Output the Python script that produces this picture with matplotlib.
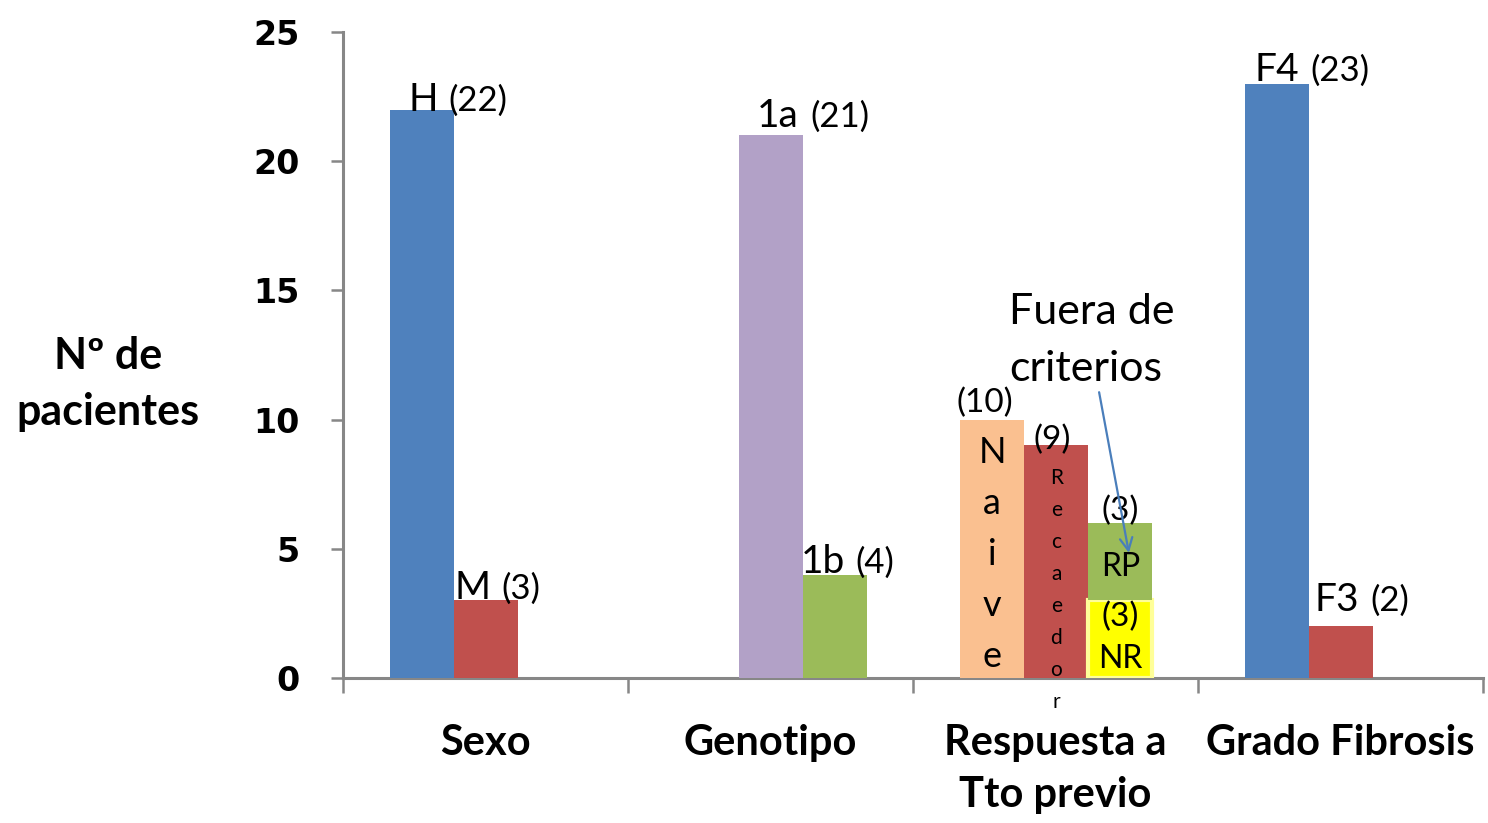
import matplotlib
matplotlib.use("Agg")
import matplotlib.pyplot as plt
from matplotlib.offsetbox import TextArea, HPacker, AnnotationBbox

FONT = "Lato"
plt.rcParams["font.family"] = [FONT, "DejaVu Sans"]

# ---- data -------------------------------------------------------------
categories = ["Sexo", "Genotipo", "Respuesta a\nTto previo", "Grado Fibrosis"]

sexo_labels = ["H", "M"]
sexo_values = [22, 3]

genotipo_labels = ["1a", "1b"]
genotipo_values = [21, 4]

respuesta_labels = ["Naive", "Recaedor", "NR", "RP"]
respuesta_values = [10, 9, 3, 3]

fibrosis_labels = ["F4", "F3"]
fibrosis_values = [23, 2]

y_ticks = [0, 5, 10, 15, 20, 25]

# ---- styling ----------------------------------------------------------
BLUE = "#4F81BD"
RED = "#C0504D"
PURPLE = "#B2A1C7"
GREEN = "#9BBB59"
ORANGE = "#FAC090"
YELLOW = "#FFFF00"
AXIS_GREY = "#878787"
ARROW_BLUE = "#4A7EBB"

SLOT_START = [0.165, 0.39, 0.615]   # left edge of each bar slot inside a group
WIDTH = 0.225

fig = plt.figure(figsize=(14.88, 8.23), dpi=100)
ax = fig.add_axes([343 / 1488, 1 - 678 / 823, 1140 / 1488, 646 / 823])
ax.set_xlim(0, 4)
ax.set_ylim(0, 25)

for side in ("top", "right"):
    ax.spines[side].set_visible(False)
for side in ("left", "bottom"):
    ax.spines[side].set_color(AXIS_GREY)
    ax.spines[side].set_linewidth(2.2)
    ax.spines[side].set_zorder(0.5)

ax.set_yticks(y_ticks)
ax.set_yticklabels([str(v) for v in y_ticks], family="DejaVu Sans",
                   fontweight="bold", fontsize=24)
ax.tick_params(axis="y", direction="out", length=9, width=1.8,
               color=AXIS_GREY, pad=22)

ax.set_xticks(range(len(categories) + 1))
ax.set_xticklabels([])
ax.tick_params(axis="x", which="major", direction="out", length=11,
               width=1.8, color=AXIS_GREY)
ax.set_xticks([i + 0.5 for i in range(len(categories))], minor=True)
ax.set_xticklabels(categories, minor=True, fontsize=30, fontweight="bold",
                   linespacing=1.45)
ax.tick_params(axis="x", which="minor", length=0, pad=33)


def pair_label(big, small, x, y, dx, dy):
    """Large category letter followed by a smaller count, sitting on a bar."""
    a = TextArea(big, textprops=dict(size=28, family=FONT, color="black"))
    b = TextArea(small, textprops=dict(size=25, family=FONT, color="black"))
    pack = HPacker(children=[a, b], align="baseline", pad=0, sep=8)
    ab = AnnotationBbox(pack, (x, y), xybox=(dx, dy), xycoords="data",
                        boxcoords="offset points", box_alignment=(0, 0),
                        frameon=False, pad=0, annotation_clip=False)
    ax.add_artist(ab)


def bar(group, slot, value, color, bottom=0, **kw):
    left = group + SLOT_START[slot]
    ax.bar(left, value, width=WIDTH, bottom=bottom, align="edge",
           color=color, zorder=2, **kw)
    return left


# Sexo
x = bar(0, 0, sexo_values[0], BLUE)
pair_label(sexo_labels[0], f"({sexo_values[0]})", x, sexo_values[0], 13, -6)
x = bar(0, 1, sexo_values[1], RED)
pair_label(sexo_labels[1], f"({sexo_values[1]})", x, sexo_values[1], 0, -4)

# Genotipo
x = bar(1, 1, genotipo_values[0], PURPLE)
pair_label(genotipo_labels[0], f"({genotipo_values[0]})", x,
           genotipo_values[0], 13, 1)
x = bar(1, 2, genotipo_values[1], GREEN)
pair_label(genotipo_labels[1], f"({genotipo_values[1]})", x,
           genotipo_values[1], -2, -4)

# Respuesta a tratamiento previo
naive_x = bar(2, 0, respuesta_values[0], ORANGE)
rec_x = bar(2, 1, respuesta_values[1], RED)
nr_x = bar(2, 2, respuesta_values[2], YELLOW, edgecolor="#FFFF99",
           linewidth=3)
rp_x = bar(2, 2, respuesta_values[3], GREEN, bottom=respuesta_values[2])

cx = WIDTH / 2
ax.annotate(f"({respuesta_values[0]})", (naive_x + cx, respuesta_values[0]),
            xytext=(-5, 1), textcoords="offset points", ha="center",
            va="bottom", fontsize=24)
ax.annotate(f"({respuesta_values[1]})", (rec_x + cx, respuesta_values[1]),
            xytext=(-3, -7), textcoords="offset points", ha="center",
            va="bottom", fontsize=24)

for k, ch in enumerate(respuesta_labels[0]):
    ax.annotate(ch, (naive_x + cx, respuesta_values[0]),
                xytext=(0, -23.5 - 36.7 * k), textcoords="offset points",
                ha="center", va="center", fontsize=26)
for k, ch in enumerate(respuesta_labels[1]):
    ax.annotate(ch, (rec_x + cx, respuesta_values[1]),
                xytext=(0, -23.8 - 23 * k), textcoords="offset points",
                ha="center", va="center", fontsize=15, annotation_clip=False)

rp_top = respuesta_values[2] + respuesta_values[3]
ax.annotate(f"({respuesta_values[3]})", (rp_x + cx, rp_top),
            xytext=(0, -2), textcoords="offset points", ha="center",
            va="bottom", fontsize=24)
ax.annotate(respuesta_labels[3], (rp_x + cx, rp_top),
            xytext=(0, -32), textcoords="offset points", ha="center",
            va="center", fontsize=23)
ax.annotate(f"({respuesta_values[2]})", (nr_x + cx, respuesta_values[2]),
            xytext=(0, -12), textcoords="offset points", ha="center",
            va="center", fontsize=24)
ax.annotate(respuesta_labels[2], (nr_x + cx, respuesta_values[2]),
            xytext=(0, -42), textcoords="offset points", ha="center",
            va="center", fontsize=23)

# Call-out for the RP bar
ax.text(2.337, 14.9, "Fuera de\ncriterios", ha="left", va="top",
        fontsize=31, linespacing=1.62)
ax.annotate("", xy=(rp_x + cx + 0.03, 4.84), xytext=(2.653, 11.06),
            arrowprops=dict(arrowstyle="->,head_length=0.9,head_width=0.45",
                            color=ARROW_BLUE, lw=1.6, shrinkA=0, shrinkB=0))

# Grado de fibrosis
x = bar(3, 0, fibrosis_values[0], BLUE)
pair_label(fibrosis_labels[0], f"({fibrosis_values[0]})", x,
           fibrosis_values[0], 7, -3)
x = bar(3, 1, fibrosis_values[1], RED)
pair_label(fibrosis_labels[1], f"({fibrosis_values[1]})", x,
           fibrosis_values[1], 4, 6)

fig.text(108 / 1488, 1 - 384 / 823, "Nº de\npacientes", ha="center",
         va="center", fontsize=31, fontweight="bold", linespacing=1.5)

fig.savefig("out.png", dpi=100, facecolor="white")
